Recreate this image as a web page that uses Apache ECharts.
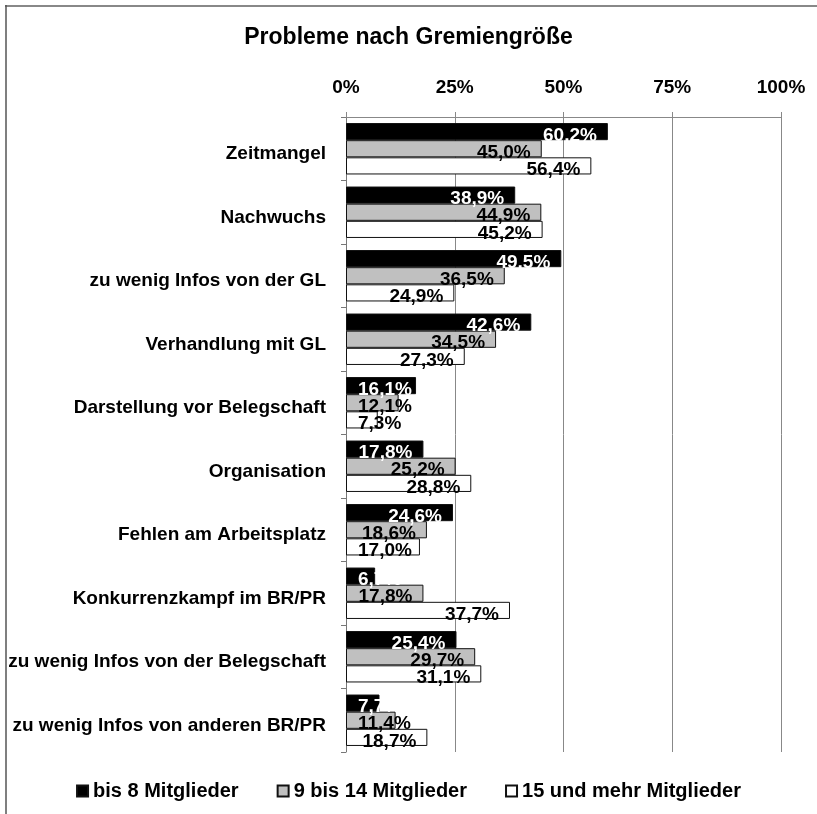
<!DOCTYPE html>
<html>
<head>
<meta charset="utf-8">
<script src="https://cdn.jsdelivr.net/npm/echarts@6/dist/echarts.min.js"></script>
<style>
  html, body { margin: 0; padding: 0; background: #fff; }
  #chart { width: 817px; height: 814px; }
</style>
</head>
<body>
<div id="chart"></div>
<script>
const categories = [
  'Zeitmangel',
  'Nachwuchs',
  'zu wenig Infos von der GL',
  'Verhandlung mit GL',
  'Darstellung vor Belegschaft',
  'Organisation',
  'Fehlen am Arbeitsplatz',
  'Konkurrenzkampf im BR/PR',
  'zu wenig Infos von der Belegschaft',
  'zu wenig Infos von anderen BR/PR'
]
const seriesNames = ['bis 8 Mitglieder', '9 bis 14 Mitglieder', '15 und mehr Mitglieder']
const small = [60.2, 38.9, 49.5, 42.6, 16.1, 17.8, 24.6, 6.7, 25.4, 7.7]
const medium = [45.0, 44.9, 36.5, 34.5, 12.1, 25.2, 18.6, 17.8, 29.7, 11.4]
const large = [56.4, 45.2, 24.9, 27.3, 7.3, 28.8, 17.0, 37.7, 31.1, 18.7]
const xTicks = [0, 25, 50, 75, 100]

const font = 'Liberation Sans'
const chart = echarts.init(document.getElementById('chart'))

function makeSeries(name, data, color, labelColor) {
  // short bars: label starts near the axis, like Excel does when it doesn't fit
  const items = data.map(v => {
    if (v >= 17.5) return v
    return { value: v, label: { position: 'insideLeft', distance: 12 } }
  })
  return {
    name: name,
    type: 'bar',
    data: items,
    barGap: '0%',
    barCategoryGap: '19%',
    itemStyle: { color: color, borderColor: '#111', borderWidth: 1 },
    label: {
      show: true,
      position: 'insideRight',
      distance: 11,
      offset: [0, 4],
      color: labelColor,
      fontFamily: font,
      fontWeight: 'bold',
      fontSize: 19,
      formatter: p => p.value.toFixed(1).replace('.', ',') + '%'
    }
  }
}

chart.setOption({
  animation: false,
  backgroundColor: '#fff',
  title: {
    text: 'Probleme nach Gremiengröße',
    left: 'center',
    top: 21,
    textStyle: { fontFamily: font, fontWeight: 'bold', fontSize: 23, color: '#000' }
  },
  graphic: [
    { type: 'line', shape: { x1: 5, y1: 6, x2: 817, y2: 6 }, style: { stroke: '#888', lineWidth: 2 } },
    { type: 'line', shape: { x1: 6, y1: 5, x2: 6, y2: 814 }, style: { stroke: '#555', lineWidth: 1.5 } }
  ],
  legend: {
    data: seriesNames,
    bottom: 8,
    left: 'center',
    icon: 'rect',
    itemWidth: 11,
    itemHeight: 11,
    itemGap: 38,
    textStyle: { fontFamily: font, fontWeight: 'bold', fontSize: 20, color: '#000' }
  },
  grid: { left: 346, right: 36, top: 117, bottom: 62 },
  xAxis: {
    type: 'value',
    position: 'top',
    min: 0,
    max: 100,
    interval: 25,
    axisLine: { show: true, lineStyle: { color: '#888' } },
    axisTick: { show: true, length: 5, lineStyle: { color: '#888' } },
    splitLine: { lineStyle: { color: '#888' } },
    axisLabel: {
      margin: 20,
      fontFamily: font,
      fontWeight: 'bold',
      fontSize: 19,
      color: '#000',
      formatter: v => xTicks.includes(v) ? v + '%' : ''
    }
  },
  yAxis: {
    type: 'category',
    data: categories,
    inverse: true,
    axisLine: { show: true, lineStyle: { color: '#777' } },
    axisTick: { show: true, length: 5, lineStyle: { color: '#777' } },
    axisLabel: {
      margin: 20,
      formatter: v => '{c|' + v + '}',
      rich: {
        c: {
          padding: [11, 0, 0, 0],
          fontFamily: font,
          fontWeight: 'bold',
          fontSize: 19,
          color: '#000'
        }
      }
    }
  },
  series: [
    makeSeries(seriesNames[0], small, '#000', '#fff'),
    makeSeries(seriesNames[1], medium, '#c0c0c0', '#000'),
    makeSeries(seriesNames[2], large, '#fff', '#000')
  ]
})
</script>
</body>
</html>
